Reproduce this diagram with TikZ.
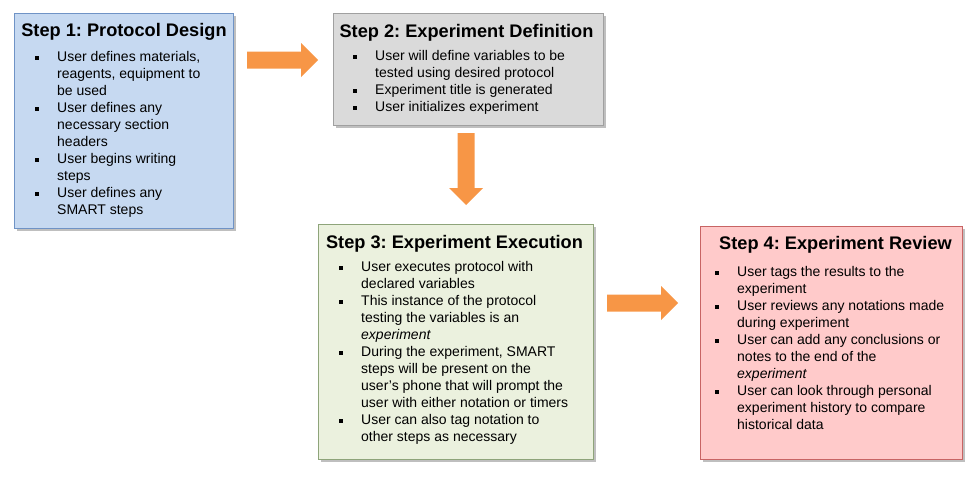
\documentclass[tikz,border=0pt]{standalone}
\usepackage{fontspec}
\setmainfont{Liberation Sans}
\usetikzlibrary{shadows}
\definecolor{arroworange}{HTML}{F79646}
\definecolor{bluefill}{HTML}{C6D9F1}
\definecolor{blueline}{HTML}{6F93C6}
\definecolor{grayfill}{HTML}{DADADA}
\definecolor{grayline}{HTML}{A0A0A0}
\definecolor{greenfill}{HTML}{EBF1DE}
\definecolor{greenline}{HTML}{8EA47A}
\definecolor{pinkfill}{HTML}{FFCACA}
\definecolor{pinkline}{HTML}{C86464}
\newcommand\bul{\makebox[22pt][l]{\rule[1.5pt]{4pt}{4pt}}}
\newcommand\cnt{\makebox[22pt]{}}
\frenchspacing
\tikzset{
  stepbox/.style={draw, line width=1pt, anchor=north west, inner sep=0pt,
    drop shadow={shadow xshift=2pt, shadow yshift=-2pt, fill=black!50, opacity=0.5}},
  steptitle/.style={anchor=base, inner sep=0pt, font=\fontsize{18.2}{21}\selectfont\bfseries},
  stepbody/.style={anchor=north west, inner sep=0pt, align=left, font=\fontsize{14}{17}\selectfont\frenchspacing},
  blockarrow/.style={fill=arroworange, draw=none}
}
\begin{document}
\begin{tikzpicture}[x=1pt,y=-1pt]
\useasboundingbox (0,0) rectangle (975,485);
% boxes
\node[stepbox, fill=bluefill, draw=blueline, minimum width=219pt, minimum height=215pt] (s1) at (14,13) {};
\node[stepbox, fill=grayfill, draw=grayline, minimum width=270pt, minimum height=112pt] (s2) at (333,13) {};
\node[stepbox, fill=greenfill, draw=greenline, minimum width=275pt, minimum height=235pt] (s3) at (318,224) {};
\node[stepbox, fill=pinkfill, draw=pinkline, minimum width=262pt, minimum height=233pt] (s4) at (700,226) {};
% titles
\node[steptitle] (t1) at (124,36.5) {Step 1: Protocol Design};
\node[steptitle] (t2) at (466.5,37.5) {Step 2: Experiment Definition};
\node[steptitle] (t3) at (454.5,248.5) {Step 3: Experiment Execution};
\node[steptitle] (t4) at (835.5,249.5) {Step 4: Experiment Review};
% bodies
\node[stepbody] (b1) at (35,49.1) {\strut\bul User defines materials,\\
\cnt reagents, equipment to\\
\cnt be used\\
\bul User defines any\\
\cnt necessary section\\
\cnt headers\\
\bul User begins writing\\
\cnt steps\\
\bul User defines any\\
\cnt SMART steps};
\node[stepbody] (b2) at (353,48.1) {\strut\bul User will define variables to be\\
\cnt tested using desired protocol\\
\bul Experiment title is generated\\
\bul User initializes experiment};
\node[stepbody] (b3) at (339,259.1) {\strut\bul User executes protocol with\\
\cnt declared variables\\
\bul This instance of the protocol\\
\cnt testing the variables is an\\
\cnt \textit{experiment}\\
\bul During the experiment, SMART\\
\cnt steps will be present on the\\
\cnt user’s phone that will prompt the\\
\cnt user with either notation or timers\\
\bul User can also tag notation to\\
\cnt other steps as necessary};
\node[stepbody] (b4) at (715,264.1) {\strut\bul User tags the results to the\\
\cnt experiment\\
\bul User reviews any notations made\\
\cnt during experiment\\
\bul User can add any conclusions or\\
\cnt notes to the end of the\\
\cnt \textit{experiment}\\
\bul User can look through personal\\
\cnt experiment history to compare\\
\cnt historical data};
% block arrows
\fill[blockarrow] (247,51.5) -- (301,51.5) -- (301,43) -- (318,60) -- (301,77) -- (301,68.5) -- (247,68.5) -- cycle;
\fill[blockarrow] (457.5,133) -- (457.5,188) -- (449,188) -- (466,205) -- (483,188) -- (474.5,188) -- (474.5,133) -- cycle;
\fill[blockarrow] (607,294.5) -- (661,294.5) -- (661,286) -- (678,303) -- (661,320) -- (661,311.5) -- (607,311.5) -- cycle;
\end{tikzpicture}
\end{document}
